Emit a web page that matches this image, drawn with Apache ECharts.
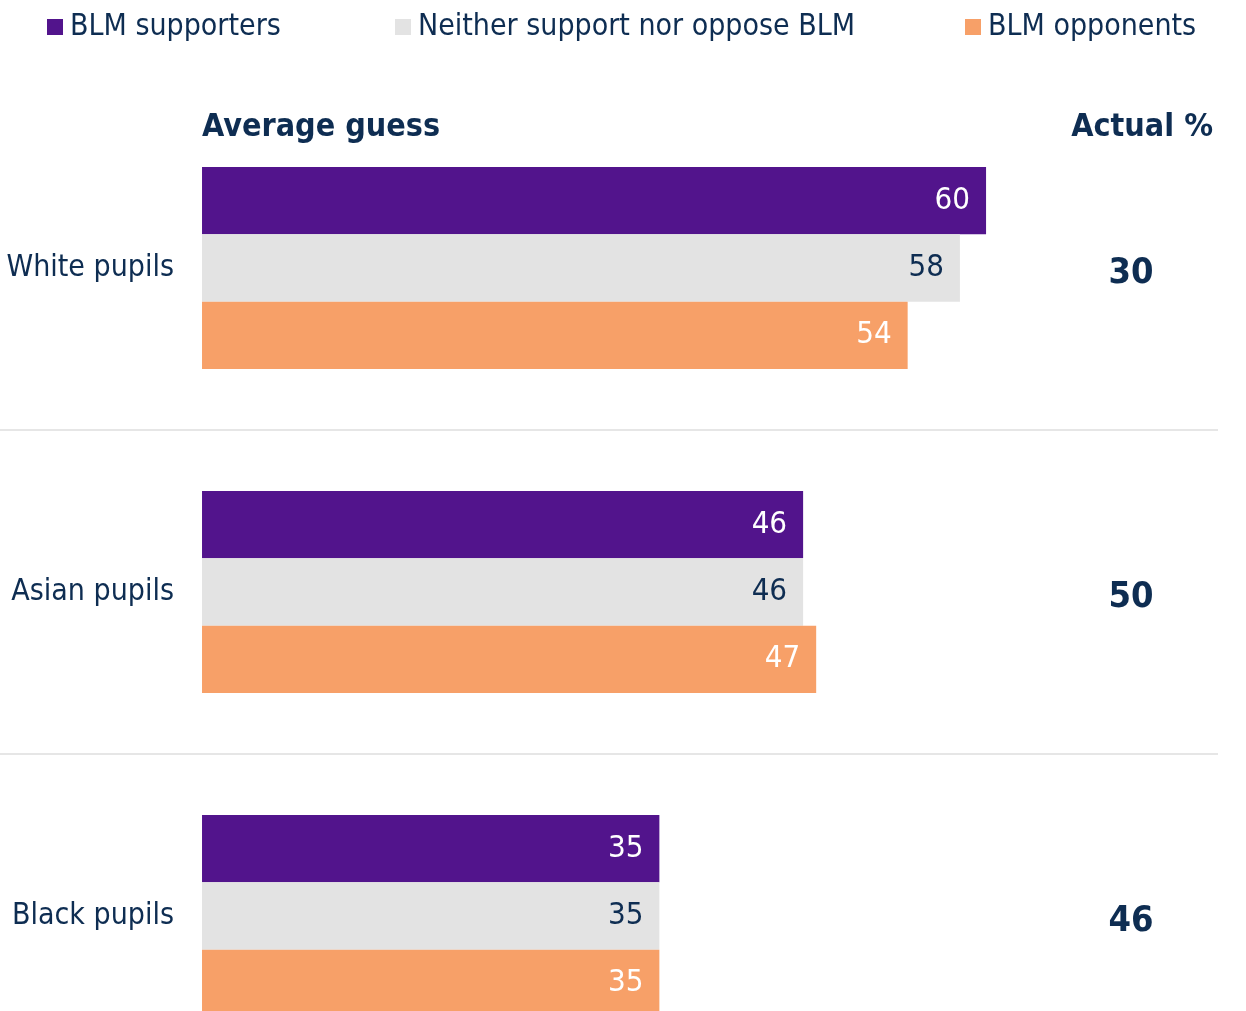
<!DOCTYPE html>
<html>
<head>
<meta charset="utf-8">
<script src="https://cdn.jsdelivr.net/npm/echarts@6/dist/echarts.min.js"></script>
<style>
html,body{margin:0;padding:0;background:#fff;}
#chart{width:1246px;height:1011px;}
</style>
</head>
<body>
<div id="chart"></div>
<script>
const categories = ['White pupils', 'Asian pupils', 'Black pupils'];
const seriesNames = ['BLM supporters', 'Neither support nor oppose BLM', 'BLM opponents'];
const supporters = [60, 46, 35];
const neither = [58, 46, 35];
const opponents = [54, 47, 35];
const actual = [30, 50, 46];

const NAVY = '#0E2D52';
const FONT = '"Liberation Sans Narrow", "DejaVu Sans Condensed", "Roboto", sans-serif';
const colors = ['#52148C', '#E3E3E3', '#F7A068'];
const labelColors = ['#ffffff', NAVY, '#ffffff'];
const values = [supporters, neither, opponents];

const chart = echarts.init(document.getElementById('chart'));

const legendLefts = [42, 390, 960];
const legends = seriesNames.map((n, i) => ({
  data: [n],
  left: legendLefts[i],
  top: 7,
  icon: 'rect',
  itemWidth: 16,
  itemHeight: 16,
  selectedMode: false,
  textStyle: { fontFamily: FONT, fontSize: 30, color: NAVY, padding: [0, 0, 0, 2] }
}));

chart.setOption({
  animation: false,
  color: colors,
  legend: legends,
  title: [
    { text: 'Average guess', left: 197, top: 107,
      textStyle: { fontFamily: FONT, fontSize: 32, fontWeight: 'bold', color: NAVY } },
    { text: 'Actual %', right: 28, top: 107,
      textStyle: { fontFamily: FONT, fontSize: 32, fontWeight: 'bold', color: NAVY } }
  ],
  grid: { left: 0, right: 28, top: 106, height: 972, containLabel: false, outerBoundsMode: 'none' },
  xAxis: {
    type: 'value', min: -15.46, max: 77.75,
    show: false, splitLine: { show: false }
  },
  yAxis: [
    {
      type: 'category', data: categories, inverse: true,
      axisLine: { show: false }, axisTick: { show: false },
      axisLabel: { margin: -174, fontFamily: FONT, fontSize: 30, color: NAVY },
      splitLine: { show: true, showMinLine: false, showMaxLine: false,
        lineStyle: { color: '#E6E6E6', width: 2 } }
    },
    {
      type: 'category', data: categories, inverse: true, position: 'right',
      axisLine: { show: false }, axisTick: { show: false }, splitLine: { show: false },
      axisLabel: {
        margin: -87, align: 'center', verticalAlign: 'top', lineHeight: 12,
        fontFamily: FONT, fontSize: 36, fontWeight: 'bold', color: NAVY,
        formatter: (v, i) => String(actual[i])
      }
    }
  ],
  series: seriesNames.map((n, i) => ({
    name: n, type: 'bar', yAxisIndex: 0,
    data: values[i],
    barGap: 0, barCategoryGap: '37.7%',
    itemStyle: { color: colors[i] },
    label: {
      show: true, position: 'insideRight', distance: 16,
      fontFamily: FONT, fontSize: 31, color: labelColors[i]
    }
  }))
});
</script>
</body>
</html>
